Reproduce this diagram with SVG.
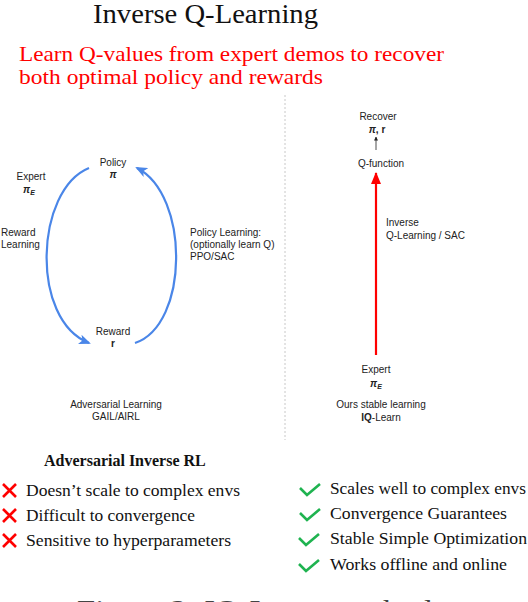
<svg xmlns="http://www.w3.org/2000/svg" width="528" height="602" viewBox="0 0 528 602">
<style>
.serif{font-family:"Liberation Serif","DejaVu Serif",serif}
.sans{font-family:"Liberation Sans",Arial,sans-serif;font-size:10px;fill:#222}
.mid{text-anchor:middle}
.blue{fill:none;stroke:#4a86e8;stroke-width:2.2}
.item{font-family:"Liberation Serif","DejaVu Serif",serif;font-size:17px;fill:#111}
.x{stroke:#ff0000;stroke-width:2.6;stroke-linecap:butt}
.chk{fill:none;stroke:#1fb350;stroke-width:2.6;stroke-linejoin:miter}
</style>
<defs>
<marker id="bh" viewBox="0 0 12 10" refX="10" refY="5" markerWidth="12" markerHeight="10" markerUnits="userSpaceOnUse" orient="auto">
<path d="M0,0 L12,5 L0,10 L3,5 Z" fill="#4a86e8"/>
</marker>
<marker id="rh" viewBox="0 0 12 10" refX="11" refY="5" markerWidth="12" markerHeight="10" markerUnits="userSpaceOnUse" orient="auto">
<path d="M0,0 L12,5 L0,10 Z" fill="#ff0000"/>
</marker>
<marker id="kh" viewBox="0 0 4 4" refX="3.5" refY="2" markerWidth="4" markerHeight="4" markerUnits="userSpaceOnUse" orient="auto">
<path d="M0,0 L4,2 L0,4 Z" fill="#222"/>
</marker>
</defs>

<text class="serif" x="93" y="23" font-size="27" fill="#111" textLength="225" lengthAdjust="spacingAndGlyphs">Inverse Q-Learning</text>
<text class="serif" x="19" y="61" font-size="22" fill="#ff0000" textLength="425" lengthAdjust="spacingAndGlyphs">Learn Q-values from expert demos to recover</text>
<text class="serif" x="19" y="84" font-size="22" fill="#ff0000" textLength="304" lengthAdjust="spacingAndGlyphs">both optimal policy and rewards</text>

<line x1="285" y1="95" x2="285" y2="440" stroke="#c8c8c8" stroke-width="1" stroke-dasharray="2,2"/>

<g id="connectors">
<path class="blue" d="M89,168 C35,190 30,320 89,343" marker-end="url(#bh)"/>
<path class="blue" d="M135,343 C189,325 190,195 137,168" marker-end="url(#bh)"/>
<line x1="376" y1="355" x2="376" y2="173" stroke="#ff0000" stroke-width="2.2" marker-end="url(#rh)"/>
<line x1="376" y1="150" x2="376" y2="137" stroke="#222" stroke-width="0.8" marker-end="url(#kh)"/>
</g>

<g id="policy">
<text class="sans mid" x="113" y="166">Policy</text>
<text class="sans mid" x="113" y="178" font-weight="bold" font-style="italic">π</text>
</g>
<g id="reward">
<text class="sans mid" x="113" y="335">Reward</text>
<text class="sans mid" x="113" y="347" font-weight="bold">r</text>
</g>
<g id="expert-left">
<text class="sans mid" x="31" y="180">Expert</text>
<text class="sans mid" x="29" y="193" font-weight="bold" font-style="italic">π<tspan font-size="7" dy="2">E</tspan></text>
</g>
<g id="reward-learning">
<text class="sans" x="1" y="236">Reward</text>
<text class="sans" x="1" y="248">Learning</text>
</g>
<g id="policy-learning">
<text class="sans" x="190" y="236">Policy Learning:</text>
<text class="sans" x="190" y="248">(optionally learn Q)</text>
<text class="sans" x="190" y="260">PPO/SAC</text>
</g>
<g id="adv-label">
<text class="sans mid" x="116" y="408">Adversarial Learning</text>
<text class="sans mid" x="116" y="420">GAIL/AIRL</text>
</g>

<g id="recover">
<text class="sans mid" x="378" y="120">Recover</text>
<text class="sans mid" x="377" y="133" font-weight="bold"><tspan font-style="italic">π</tspan>, r</text>
</g>
<g id="qfunction">
<text class="sans mid" x="381" y="167">Q-function</text>
</g>
<g id="iq-label">
<text class="sans" x="386" y="226">Inverse</text>
<text class="sans" x="386" y="239">Q-Learning / SAC</text>
</g>
<g id="expert-right">
<text class="sans mid" x="376" y="373">Expert</text>
<text class="sans mid" x="376" y="387" font-weight="bold" font-style="italic">π<tspan font-size="7" dy="2">E</tspan></text>
</g>
<g id="ours-label">
<text class="sans mid" x="381" y="408">Ours stable learning</text>
<text class="sans mid" x="381" y="421"><tspan font-weight="bold">IQ</tspan>-Learn</text>
</g>

<g id="left-list">
<text class="serif" x="44" y="466" font-size="16" font-weight="bold" fill="#111">Adversarial Inverse RL</text>
<path class="x" d="M3,484 L16,497 M16,484 L3,497"/>
<text class="item" x="26" y="496" textLength="214" lengthAdjust="spacingAndGlyphs">Doesn’t scale to complex envs</text>
<path class="x" d="M3,509 L16,522 M16,509 L3,522"/>
<text class="item" x="26" y="521" textLength="169" lengthAdjust="spacingAndGlyphs">Difficult to convergence</text>
<path class="x" d="M3,534 L16,547 M16,534 L3,547"/>
<text class="item" x="26" y="546" textLength="205" lengthAdjust="spacingAndGlyphs">Sensitive to hyperparameters</text>
</g>

<g id="right-list">
<path class="chk" d="M300,488 L307,495 L320,484"/>
<text class="item" x="330" y="494" textLength="196" lengthAdjust="spacingAndGlyphs">Scales well to complex envs</text>
<path class="chk" d="M300,513 L307,520 L320,509"/>
<text class="item" x="330" y="519" textLength="177" lengthAdjust="spacingAndGlyphs">Convergence Guarantees</text>
<path class="chk" d="M299,538 L306,545 L319,534"/>
<text class="item" x="330" y="544" textLength="197" lengthAdjust="spacingAndGlyphs">Stable Simple Optimization</text>
<path class="chk" d="M299,564 L306,571 L319,560"/>
<text class="item" x="330" y="570" textLength="177" lengthAdjust="spacingAndGlyphs">Works offline and online</text>
</g>

<text class="serif" x="77" y="620" font-size="30" fill="#444" textLength="355" lengthAdjust="spacingAndGlyphs">Figure 2: IQ-Learn method</text>
</svg>
